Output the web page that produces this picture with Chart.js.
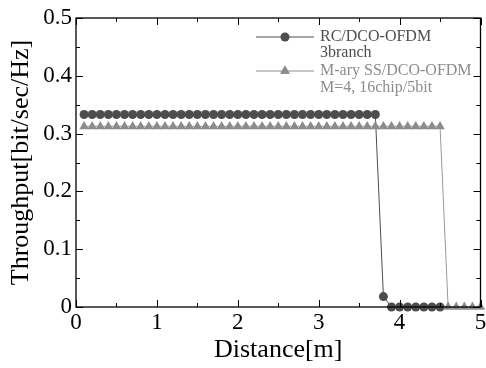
<!DOCTYPE html>
<html>
<head>
<meta charset="utf-8">
<script src="https://cdn.jsdelivr.net/npm/chart.js@4.4.1/dist/chart.umd.min.js"></script>
<style>
  html, body { margin: 0; padding: 0; background: #fff; }
  canvas { display: block; }
</style>
</head>
<body>
<canvas id="chart" width="486" height="368"></canvas>
<script>
// distance values in metres
var distance = [0.1, 0.2, 0.3, 0.4, 0.5, 0.6, 0.7, 0.8, 0.9, 1.0,
                1.1, 1.2, 1.3, 1.4, 1.5, 1.6, 1.7, 1.8, 1.9, 2.0,
                2.1, 2.2, 2.3, 2.4, 2.5, 2.6, 2.7, 2.8, 2.9, 3.0,
                3.1, 3.2, 3.3, 3.4, 3.5, 3.6, 3.7, 3.8, 3.9, 4.0,
                4.1, 4.2, 4.3, 4.4, 4.5, 4.6, 4.7, 4.8, 4.9, 5.0];

// RC/DCO-OFDM 3branch (ends at 4.5 m)
var rcThroughput = [0.333, 0.333, 0.333, 0.333, 0.333, 0.333, 0.333, 0.333, 0.333, 0.333,
                    0.333, 0.333, 0.333, 0.333, 0.333, 0.333, 0.333, 0.333, 0.333, 0.333,
                    0.333, 0.333, 0.333, 0.333, 0.333, 0.333, 0.333, 0.333, 0.333, 0.333,
                    0.333, 0.333, 0.333, 0.333, 0.333, 0.333, 0.333, 0.018, 0, 0,
                    0, 0, 0, 0, 0];

// M-ary SS/DCO-OFDM, M=4, 16chip/5bit
var maryThroughput = [0.3125, 0.3125, 0.3125, 0.3125, 0.3125, 0.3125, 0.3125, 0.3125, 0.3125, 0.3125,
                      0.3125, 0.3125, 0.3125, 0.3125, 0.3125, 0.3125, 0.3125, 0.3125, 0.3125, 0.3125,
                      0.3125, 0.3125, 0.3125, 0.3125, 0.3125, 0.3125, 0.3125, 0.3125, 0.3125, 0.3125,
                      0.3125, 0.3125, 0.3125, 0.3125, 0.3125, 0.3125, 0.3125, 0.3125, 0.3125, 0.3125,
                      0.3125, 0.3125, 0.3125, 0.3125, 0.3125, 0, 0, 0, 0, 0];

var xTicks = [0, 1, 2, 3, 4, 5];
var yTicks = [0, 0.1, 0.2, 0.3, 0.4, 0.5];

var legendRows = [
    ["RC/DCO-OFDM", "3branch"],
    ["M-ary SS/DCO-OFDM", "M=4, 16chip/5bit"]
];

var serif = "'Liberation Serif', 'DejaVu Serif', serif";
var darkColour = "#4d4d4d";
var lightColour = "#8c8c8c";

function toPoints(values) {
    return values.map(function (v, i) {
        return { x: distance[i], y: v };
    });
}

// frame, inward ticks and the legend
var framePlugin = {
    id: "frame",
    afterDraw: function (chart) {
        var ctx = chart.ctx;
        var a = chart.chartArea;
        var xs = chart.scales.x;
        var ys = chart.scales.y;
        ctx.save();
        ctx.strokeStyle = "#000";
        ctx.lineWidth = 1.3;
        ctx.strokeRect(a.left, a.top, a.right - a.left, a.bottom - a.top);

        ctx.lineWidth = 1;
        ctx.beginPath();
        for (var i = 0; i <= 10; i++) {
            var px = Math.round(xs.getPixelForValue(i * 0.5)) + 0.5;
            var len = i % 2 === 0 ? 7 : 4;
            ctx.moveTo(px, a.bottom);
            ctx.lineTo(px, a.bottom - len);
            ctx.moveTo(px, a.top);
            ctx.lineTo(px, a.top + len);
        }
        for (var j = 0; j <= 10; j++) {
            var py = Math.round(ys.getPixelForValue(j * 0.05)) + 0.5;
            var l = j % 2 === 0 ? 7 : 4;
            ctx.moveTo(a.left, py);
            ctx.lineTo(a.left + l, py);
            ctx.moveTo(a.right, py);
            ctx.lineTo(a.right - l, py);
        }
        ctx.stroke();

        // legend
        var rowsY = [[37, 53], [71, 88]];
        var colours = [darkColour, lightColour];
        ctx.font = "16px " + serif;
        ctx.textBaseline = "middle";
        ctx.textAlign = "left";
        for (var k = 0; k < legendRows.length; k++) {
            var y = rowsY[k][0];
            ctx.strokeStyle = colours[k];
            ctx.fillStyle = colours[k];
            ctx.beginPath();
            ctx.moveTo(256, y);
            ctx.lineTo(314, y);
            ctx.stroke();
            if (k === 0) {
                ctx.beginPath();
                ctx.arc(285, y, 4.5, 0, Math.PI * 2);
                ctx.fill();
            } else {
                Chart.helpers.drawPoint(ctx, { pointStyle: "triangle", radius: 5.5, borderWidth: 0 }, 285, y);
                ctx.fill();
            }
            ctx.fillText(legendRows[k][0], 320, rowsY[k][0]);
            ctx.fillText(legendRows[k][1], 320, rowsY[k][1]);
        }
        ctx.restore();
    }
};

var ctx = document.getElementById("chart").getContext("2d");
var chart = new Chart(ctx, {
    type: "line",
    data: {
        datasets: [{
            label: legendRows[0].join(" "),
            data: toPoints(rcThroughput),
            borderColor: darkColour,
            backgroundColor: darkColour,
            borderWidth: 1,
            pointStyle: "circle",
            pointRadius: 4.5,
            pointBorderWidth: 0,
            order: 2,
            clip: false
        }, {
            label: legendRows[1].join(" "),
            data: toPoints(maryThroughput),
            borderColor: "#9a9a9a",
            backgroundColor: lightColour,
            borderWidth: 1,
            pointStyle: "triangle",
            pointRadius: 5.5,
            pointBorderWidth: 0,
            order: 1,
            clip: false
        }]
    },
    options: {
        responsive: false,
        animation: false,
        layout: { padding: { left: 0, top: 18, right: 2, bottom: 0 } },
        plugins: {
            legend: { display: false },
            tooltip: { enabled: false }
        },
        scales: {
            x: {
                type: "linear",
                min: 0,
                max: 5,
                afterBuildTicks: function (scale) {
                    scale.ticks = xTicks.map(function (v) { return { value: v }; });
                },
                afterFit: function (scale) {
                    scale.height = 61;
                    scale.paddingLeft = 0;
                    scale.paddingRight = 0;
                },
                grid: { display: false, drawTicks: false },
                border: { display: false },
                ticks: {
                    color: "#000",
                    padding: 2,
                    maxRotation: 0,
                    font: { family: serif, size: 23 }
                },
                title: {
                    display: true,
                    text: "Distance[m]",
                    color: "#000",
                    padding: { top: 0, bottom: 2 },
                    font: { family: serif, size: 26, lineHeight: 1.2 }
                }
            },
            y: {
                min: 0,
                max: 0.5,
                afterBuildTicks: function (scale) {
                    scale.ticks = yTicks.map(function (v) { return { value: v }; });
                },
                afterFit: function (scale) {
                    scale.width = 76;
                    scale.paddingTop = 0;
                    scale.paddingBottom = 0;
                },
                grid: { display: false, drawTicks: false },
                border: { display: false },
                ticks: {
                    color: "#000",
                    padding: 4,
                    font: { family: serif, size: 23 },
                    callback: function (v) { return v === 0 ? "0" : v.toFixed(1); }
                },
                title: {
                    display: true,
                    text: "Throughput[bit/sec/Hz]",
                    color: "#000",
                    padding: { top: 6, bottom: 0 },
                    font: { family: serif, size: 26, lineHeight: 1.2 }
                }
            }
        }
    },
    plugins: [framePlugin]
});
</script>
</body>
</html>
